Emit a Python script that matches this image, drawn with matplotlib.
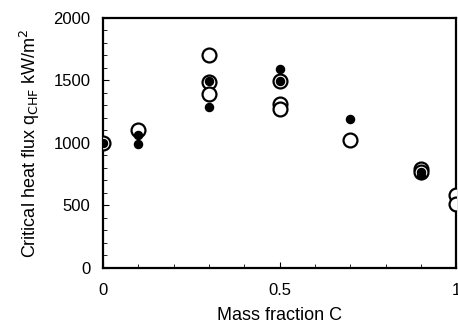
import numpy as np
import matplotlib.pyplot as plt

plt.rcParams['font.family'] = ['Liberation Sans', 'DejaVu Sans']

# open circles
openX = [0.0, 0.1, 0.3, 0.3, 0.3, 0.5, 0.5, 0.5, 0.7, 0.9, 0.9, 1.0, 1.0]
openY = [1000, 1100, 1700, 1490, 1395, 1495, 1310, 1275, 1025, 790, 770, 585, 515]

# filled dots
fillX = [0.0, 0.1, 0.1, 0.3, 0.3, 0.5, 0.5, 0.7, 0.9, 0.9]
fillY = [1000, 1060, 995, 1495, 1290, 1595, 1495, 1195, 765, 740]

fig = plt.figure(figsize=(4.58, 3.26), dpi=100)
ax = fig.add_axes([0.225, 0.178, 0.771, 0.767])

ax.scatter(openX, openY, s=100, facecolors='white', edgecolors='black', linewidths=1.6, zorder=3)
ax.scatter(fillX, fillY, s=34, color='black', zorder=4)

ax.set_xlim(0, 1)
ax.set_ylim(0, 2000)
ax.set_xticks([0, 0.5, 1])
ax.set_xticklabels(['0', '0.5', '1'])
ax.set_yticks([0, 500, 1000, 1500, 2000])
ax.set_xticks(np.arange(0, 1.01, 0.1), minor=True)
ax.set_yticks(np.arange(0, 2001, 100), minor=True)
ax.tick_params(which='both', direction='in', labelsize=12)
ax.tick_params(axis='x', which='major', pad=11, length=4)
ax.tick_params(axis='y', which='major', pad=9, length=4)
ax.tick_params(which='minor', length=3)
for s in ax.spines.values():
    s.set_linewidth(1.6)

ax.set_xlabel("Mass fraction C", fontsize=13, labelpad=6)
ax.set_ylabel(r"Critical heat flux q$_{\rm CHF}$ kW/m$^2$", fontsize=13, labelpad=8)

fig.savefig("out.png", dpi=100)
